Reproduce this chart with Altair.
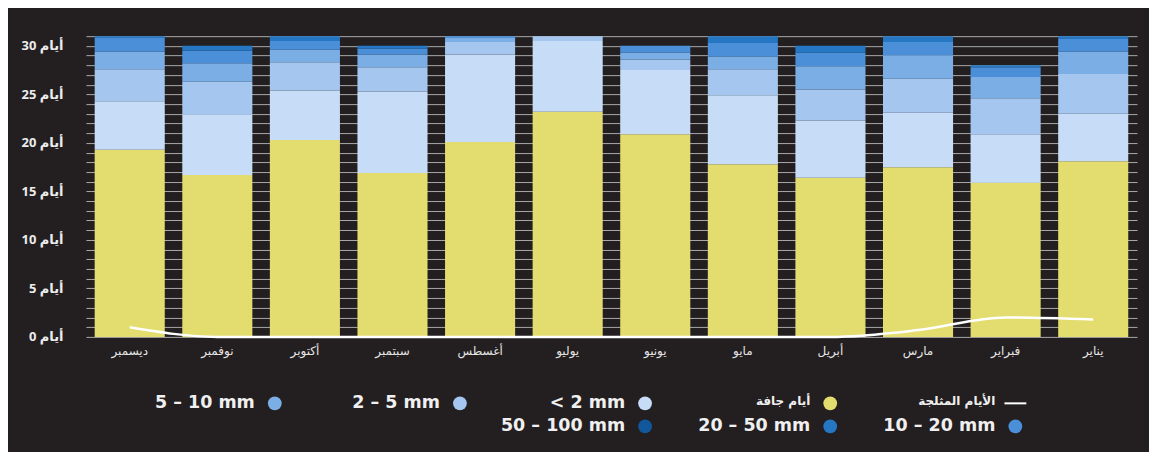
import altair as alt
import pandas as pd

# Months, displayed right-to-left (January at the right)
months = ["ديسمبر", "نوفمبر", "أكتوبر", "سبتمبر", "أغسطس", "يوليو",
          "يونيو", "مايو", "أبريل", "مارس", "فبراير", "يناير"]

# Days per category (bottom to top of each bar)
dry_days  = [19.3, 16.7, 20.3, 16.9, 20.1, 23.2, 20.9, 17.8, 16.4, 17.5, 15.9, 18.1]
lt_2mm    = [5.0, 6.2, 5.1, 8.4, 9.0, 7.3, 6.6, 7.1, 5.9, 5.6, 5.0, 4.9]
mm_2_5    = [3.3, 3.4, 2.9, 2.5, 1.3, 0.5, 1.1, 2.7, 3.2, 3.5, 3.7, 4.1]
mm_5_10   = [1.8, 1.9, 1.3, 1.3, 0.4, 0.0, 0.7, 1.3, 2.4, 2.4, 2.2, 2.3]
mm_10_20  = [1.4, 1.3, 0.9, 0.6, 0.2, 0.0, 0.7, 1.4, 1.4, 1.4, 1.0, 1.3]
mm_20_50  = [0.2, 0.5, 0.5, 0.3, 0.0, 0.0, 0.0, 0.7, 0.7, 0.6, 0.2, 0.3]
mm_50_100 = [0.0, 0.0, 0.0, 0.0, 0.0, 0.0, 0.0, 0.0, 0.0, 0.0, 0.0, 0.0]
snow_days = [1.0, 0.0, 0.0, 0.0, 0.0, 0.0, 0.0, 0.0, 0.0, 0.7, 2.0, 1.8]

series_names = ["أيام جافة", "< 2 mm", "2 – 5 mm", "5 – 10 mm",
                "10 – 20 mm", "20 – 50 mm", "50 – 100 mm"]
series_vals = [dry_days, lt_2mm, mm_2_5, mm_5_10, mm_10_20, mm_20_50, mm_50_100]
series_colors = ["#e3dc6e", "#c6dcf7", "#a4c6ef", "#7aaee5", "#4a8fd8", "#2577c4", "#12569b"]
snow_name = "الأيام المثلجة"

# Legend layout (column, row) in the reference order
legend_items = ["5 – 10 mm", "2 – 5 mm", "< 2 mm", "أيام جافة", snow_name,
                "50 – 100 mm", "20 – 50 mm", "10 – 20 mm"]
legend_col = [0, 1, 2, 3, 4, 2, 3, 4]
legend_row = [0, 0, 0, 0, 0, 1, 1, 1]

BG = "#231f20"
FONT = "Open Sans, DejaVu Sans, sans-serif"
LEG_FONT = "DejaVu Sans, sans-serif"

rows = []
for k, (name, vals) in enumerate(zip(series_names, series_vals)):
    for m, v in zip(months, vals):
        rows.append({"month": m, "series": name, "days": v, "k": k})
bars_df = pd.DataFrame(rows)
snow_df = pd.DataFrame({"month": months, "snow": snow_days})

color_scale = alt.Scale(domain=series_names, range=series_colors)

x_axis = alt.Axis(title=None, labelAngle=0, ticks=False, domain=False,
                  labelColor="#e6e6e6", labelFontSize=12, labelPadding=9,
                  labelFont=FONT)
x_scale = alt.Scale(paddingInner=0.2, paddingOuter=0.1)

y_axis = alt.Axis(values=list(range(32)),
                  labelExpr="datum.value % 5 == 0 ? 'أيام ' + datum.value : ''",
                  labelOverlap=False, grid=True, gridColor="#a9a9a9", gridWidth=1,
                  ticks=False, domain=False, labelPadding=23, labelColor="#ececec",
                  labelFont=FONT, labelFontSize=13, labelFontWeight="bold",
                  title=None, minExtent=73, maxExtent=73)
y_scale = alt.Scale(domain=[0, 31], nice=False)

bars = alt.Chart(bars_df).mark_bar(strokeWidth=0).encode(
    x=alt.X("month:N", sort=months, scale=x_scale, axis=x_axis),
    y=alt.Y("days:Q", stack="zero", scale=y_scale, axis=y_axis),
    color=alt.Color("series:N", scale=color_scale, legend=None),
    order=alt.Order("k:Q", sort="ascending"),
)

line = alt.Chart(snow_df).mark_line(color="white", strokeWidth=2.5, interpolate="monotone").encode(
    x=alt.X("month:N", sort=months, scale=x_scale, axis=x_axis),
    y=alt.Y("snow:Q", scale=y_scale, axis=y_axis),
)

main = alt.layer(bars, line).properties(width=1052, height=301)

leg_color_map = dict(zip(series_names, series_colors))
leg_df = pd.DataFrame({
    "label": legend_items,
    "col": legend_col,
    "row": legend_row,
    "color": [leg_color_map.get(n, "#ffffff") for n in legend_items],
    "is_line": [n == snow_name for n in legend_items],
})

lx = alt.X("col:Q", scale=alt.Scale(domain=[-1.02, 4.657], nice=False, zero=False), axis=None)
ly = alt.Y("row:O", scale=alt.Scale(domain=[0, 1]), axis=None)

is_arabic = "test(/[\u0600-\u06FF]/, datum.label)"

leg_base = alt.Chart(leg_df)
leg_dots = leg_base.transform_filter("!datum.is_line").mark_circle(size=190, opacity=1).encode(
    x=lx, y=ly, color=alt.Color("color:N", scale=None))
leg_line = leg_base.transform_filter("datum.is_line").mark_point(
    shape="M-1,0L1,0", size=480, stroke="white", strokeWidth=2, filled=False, opacity=1).encode(
    x=lx, y=ly)
leg_text_latin = leg_base.transform_filter("!" + is_arabic).mark_text(
    align="right", baseline="middle", dx=-20, font=LEG_FONT, fontSize=17.5,
    fontWeight="bold", color="#f0f0f0").encode(x=lx, y=ly, text="label:N")
leg_text_ar = leg_base.transform_filter(is_arabic).mark_text(
    align="right", baseline="middle", dx=-20, dy=-2, font=LEG_FONT, fontSize=12,
    fontWeight="bold", color="#f0f0f0").encode(x=lx, y=ly, text="label:N")

legend = alt.layer(leg_dots, leg_line, leg_text_latin, leg_text_ar).properties(width=1052, height=46)

chart = alt.vconcat(main, legend, spacing=35).properties(
    padding={"left": 5, "top": 22, "right": 12, "bottom": 14}
).configure(background=BG).configure_view(stroke=None)

chart.save("out.html", embed_options={"renderer": "svg", "actions": False})
